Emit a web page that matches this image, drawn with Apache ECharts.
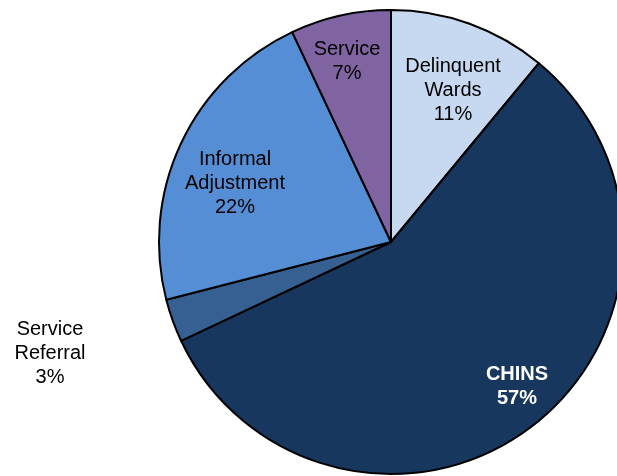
<!DOCTYPE html>
<html>
<head>
<meta charset="utf-8">
<script src="https://cdn.jsdelivr.net/npm/echarts@6/dist/echarts.min.js"></script>
<style>
  html, body { margin: 0; padding: 0; background: #fff; }
  #chart { width: 617px; height: 476px; }
</style>
</head>
<body>
<div id="chart"></div>
<script>
// Case types, clockwise from 12 o'clock
const categories = ['Delinquent Wards', 'CHINS', 'Service Referral', 'Informal Adjustment', 'Service'];
const shares = [11, 57, 3, 22, 7];
const sliceColors = ['#c6d9f1', '#17375e', '#376092', '#558ed5', '#8064a2'];

// Label centres (pixels) for each slice's text block
const labelSpots = [[453, 90], [517, 386], [50, 353], [235, 183], [347, 61]];

const chart = echarts.init(document.getElementById('chart'), null, { renderer: 'canvas' });

chart.setOption({
  animation: false,
  backgroundColor: '#ffffff',
  series: [{
    type: 'pie',
    center: [391, 242],
    radius: [0, 232],
    startAngle: 90,
    clockwise: true,
    avoidLabelOverlap: false,
    itemStyle: { borderColor: '#000000', borderWidth: 2 },
    label: {
      show: true,
      position: 'inside',
      formatter: p => p.name.replace(/ /g, '\n') + '\n' + p.value + '%',
      fontFamily: 'Liberation Sans, Arial, sans-serif',
      fontSize: 20,
      lineHeight: 24,
      color: '#000000',
      align: 'center'
    },
    labelLine: { show: false },
    labelLayout: p => ({
      x: labelSpots[p.dataIndex][0],
      y: labelSpots[p.dataIndex][1],
      align: 'center',
      verticalAlign: 'middle'
    }),
    emphasis: { disabled: true },
    data: categories.map((name, i) => ({
      name,
      value: shares[i],
      itemStyle: { color: sliceColors[i] },
      label: i === 1 ? { color: '#ffffff', fontWeight: 'bold' } : undefined
    }))
  }]
});
</script>
</body>
</html>
